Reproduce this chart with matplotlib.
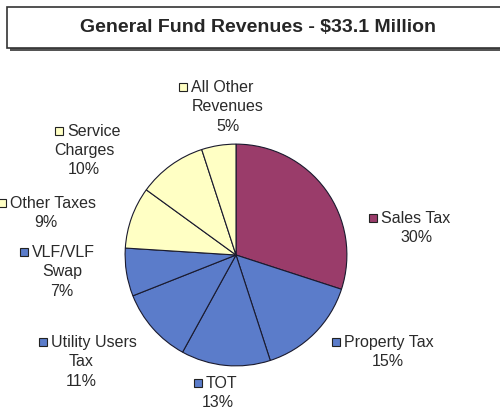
import matplotlib.pyplot as plt
from matplotlib.patches import Rectangle

plt.rcParams['font.family'] = ['Liberation Sans', 'DejaVu Sans']

# revenue shares, clockwise from 12 o'clock
categories = ['Sales Tax', 'Property Tax', 'TOT', 'Utility Users Tax',
              'VLF/VLF Swap', 'Other Taxes', 'Service Charges', 'All Other Revenues']
shares = [30, 15, 13, 11, 7, 9, 10, 5]
title = 'General Fund Revenues - $33.1 Million'

PLUM = '#9a3c6a'
BLUE = '#5b7cca'
YELLOW = '#ffffc4'
colors = [PLUM, BLUE, BLUE, BLUE, BLUE, YELLOW, YELLOW, YELLOW]

# label text broken into lines as printed
label_lines = [
    ['Sales Tax'],
    ['Property Tax'],
    ['TOT'],
    ['Utility Users', 'Tax'],
    ['VLF/VLF', 'Swap'],
    ['Other Taxes'],
    ['Service', 'Charges'],
    ['All Other', 'Revenues'],
]
# (marker x, first line y, centre x of following lines) in pixels
label_pos = [
    (373, 218, 417),
    (336, 342, 388),
    (198, 383, 218),
    (43, 342, 81),
    (24, 252, 62),
    (2, 203, 46),
    (59, 131, 84),
    (183, 87, 228),
]

W, H = 500, 411
fig = plt.figure(figsize=(W / 100, H / 100), dpi=100)


def fx(px):
    return px / W


def fy(py):
    return 1 - py / H


# title box with drop shadow
fig.patches.append(Rectangle((fx(10), fy(51)), fx(500), fy(10) - fy(51),
                             transform=fig.transFigure, facecolor='#555555',
                             edgecolor='none', zorder=1))
fig.patches.append(Rectangle((fx(7), fy(48)), fx(500), fy(7) - fy(48),
                             transform=fig.transFigure, facecolor='white',
                             edgecolor='#333333', linewidth=1.2, zorder=2))
fig.text(fx(258), fy(28), title, ha='center', va='center', fontsize=14,
         fontweight='bold', color='#262626', zorder=3)

# pie
cx, cy, r = 236, 255, 112
ax = fig.add_axes([fx(cx - r), fy(cy + r), fx(2 * r), fy(cy - r) - fy(cy + r)])
ax.pie(shares, colors=colors, startangle=90, counterclock=False,
       wedgeprops=dict(edgecolor='#1a1a2e', linewidth=0.8))
ax.set_xlim(-1.01, 1.01)
ax.set_ylim(-1.01, 1.01)
ax.set_aspect('equal')
ax.axis('off')

lh = 19.5
fs = 11.5
for lines, share, col, (mx, y0, lx) in zip(label_lines, shares, colors, label_pos):
    fig.patches.append(Rectangle((fx(mx - 4), fy(y0 + 4)), fx(8), fy(y0 - 4) - fy(y0 + 4),
                                 transform=fig.transFigure, facecolor=col,
                                 edgecolor='#222222', linewidth=0.8, zorder=3))
    fig.text(fx(mx + 8), fy(y0), lines[0], ha='left', va='center', fontsize=fs,
             color='#2a2a2a')
    rest = lines[1:] + [f'{share}%']
    for i, s in enumerate(rest):
        fig.text(fx(lx), fy(y0 + lh * (i + 1)), s, ha='center', va='center',
                 fontsize=fs, color='#2a2a2a')

fig.savefig('out.png', dpi=100)
